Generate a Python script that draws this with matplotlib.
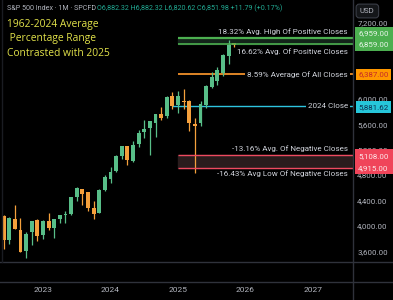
import numpy as np
import matplotlib.pyplot as plt
import matplotlib.transforms as mtransforms
from matplotlib.lines import Line2D
from matplotlib.patches import Rectangle

# data -------------------------------------------------------
months = ['2022-06', '2022-07', '2022-08', '2022-09', '2022-10', '2022-11', '2022-12',
          '2023-01', '2023-02', '2023-03', '2023-04', '2023-05', '2023-06',
          '2023-07', '2023-08', '2023-09', '2023-10', '2023-11', '2023-12',
          '2024-01', '2024-02', '2024-03', '2024-04', '2024-05', '2024-06',
          '2024-07', '2024-08', '2024-09', '2024-10', '2024-11', '2024-12',
          '2025-01', '2025-02', '2025-03', '2025-04', '2025-05', '2025-06',
          '2025-07', '2025-08', '2025-09', '2025-10', '2025-11']
opens = [4149.8, 3781.0, 4112.4, 3936.7, 3609.8, 3901.8, 4087.1,
         3853.3, 4070.1, 3963.3, 4102.2, 4166.8, 4181.2,
         4450.5, 4578.8, 4530.6, 4284.5, 4201.3, 4559.4,
         4745.2, 4861.1, 5098.5, 5258.0, 5029.0, 5283.4,
         5471.1, 5537.8, 5623.9, 5757.7, 5723.2, 6040.1,
         5903.3, 5969.7, 5968.3, 5597.5, 5625.1, 5896.7,
         6187.0, 6287.3, 6401.5, 6680.0, 6882.32]
highs = [4177.5, 4140.2, 4325.3, 4119.3, 3905.4, 4080.1, 4101.0,
         4094.2, 4195.4, 4110.8, 4170.1, 4231.1, 4458.5,
         4607.1, 4584.6, 4541.3, 4393.6, 4587.6, 4793.3,
         4931.1, 5111.1, 5264.9, 5264.0, 5341.9, 5505.5,
         5669.7, 5651.6, 5767.4, 5878.5, 6044.2, 6100.0,
         6128.2, 6147.4, 5986.1, 5695.3, 5968.6, 6215.1,
         6427.0, 6508.2, 6699.5, 6920.3, 6882.32]
lows = [3636.9, 3721.6, 3954.5, 3584.1, 3491.6, 3698.2, 3764.5,
        3794.3, 3943.1, 3808.9, 4048.3, 4048.3, 4166.2,
        4385.1, 4335.3, 4238.6, 4103.8, 4197.7, 4546.5,
        4682.1, 4853.5, 5056.8, 4953.6, 5011.1, 5234.3,
        5391.0, 5119.3, 5402.6, 5674.0, 5696.5, 5832.3,
        5773.3, 5837.7, 5488.7, 4835.0, 5578.6, 5861.4,
        6178.0, 6212.7, 6360.6, 6550.2, 6820.62]
closes = [3785.4, 4130.3, 3955.0, 3585.6, 3872.0, 4080.1, 3839.5,
          4076.6, 3970.2, 4109.3, 4169.5, 4179.8, 4450.4,
          4589.0, 4507.7, 4288.1, 4193.8, 4567.8, 4769.8,
          4845.7, 5096.3, 5254.4, 5035.7, 5277.5, 5460.5,
          5522.3, 5648.4, 5762.5, 5705.5, 6032.4, 5881.62,
          6040.5, 5954.5, 5611.9, 5569.1, 5911.7, 6205.0,
          6339.4, 6460.3, 6688.5, 6840.19, 6851.98]

years = [2023, 2024, 2025, 2026, 2027]
price_ticks = [3600, 4000, 4400, 4800, 5200, 5600, 6000, 6400, 6800, 7200]
hidden_ticks = [6400, 6800]  # covered by the price badges

level_vals = [6959, 6859, 6387, 5881.62, 5108, 4915]
level_text = ['18.32% Avg. High Of Positive Closes', '16.62% Avg. Of Positive Closes',
              '8.59% Average Of All Closes', '2024 Close',
              '-13.16% Avg. Of Negative Closes', '-16.43% Avg Low Of Negative Closes']
level_start = ['2025-01', '2025-01', '2025-01', '2024-12', '2025-01', '2025-01']

GREEN = '#58be88'
ORANGE = '#f5a03c'
GRID = '#2f323b'
TXT = '#b2b5be'


def month_idx(m):
    y, mo = m.split('-')
    return (int(y) - 2023) * 12 + int(mo) - 1


x = np.array([month_idx(m) for m in months])
o = np.array(opens); h = np.array(highs); l = np.array(lows); c = np.array(closes)
cols = np.where(c >= o, GREEN, ORANGE)

W, H = 393, 300
fig = plt.figure(figsize=(W / 100, H / 100), dpi=100, facecolor='black')
ax = fig.add_axes([0, 38 / H, 353 / W, 262 / H], facecolor='black')
XL = (-7.64, 55.1)
ax.set_xlim(*XL)
ax.set_ylim(3432, 7555)
for s in ax.spines.values():
    s.set_visible(False)

# candles
ax.vlines(x, l, h, colors=cols, linewidth=0.9, zorder=2)
ax.bar(x, np.maximum(np.abs(c - o), 4), bottom=np.minimum(o, c), width=0.7,
       color=cols, linewidth=0, zorder=2)

# level lines
st = [month_idx(m) for m in level_start]
ax.fill_between([st[0], XL[1]], level_vals[1], level_vals[0], color='#13241a', zorder=1)
ax.fill_between([st[4], XL[1]], level_vals[5], level_vals[4], color='#2a1c1d', zorder=1)
ax.hlines(level_vals[0], st[0], XL[1], color='#4caf50', lw=1.6, zorder=3)
ax.hlines(level_vals[1], st[1], XL[1], color='#4caf50', lw=1.2, zorder=3)
ax.hlines(level_vals[2], st[2], XL[1], color='#f0902a', lw=1.3, zorder=1.5)
ax.hlines(level_vals[3], st[3], XL[1], color='#2ec4df', lw=1.0, zorder=1.5)
ax.hlines(level_vals[4], st[4], XL[1], color='#ee4a60', lw=1.0, zorder=3)
ax.hlines(level_vals[5], st[5], XL[1], color='#ee4a60', lw=1.0, zorder=3)

# level labels
tr = mtransforms.blended_transform_factory(ax.transAxes, ax.transData)
lab_dy = [4.4, -5.4, 0, 0, 4.6, -4.5]
for v, t, dy in zip(level_vals, level_text, lab_dy):
    bb = dict(boxstyle='square,pad=0.25', fc='black', ec='none') if dy == 0 else None
    ax.annotate(t, xy=(1, v), xycoords=tr, xytext=(-3.6, dy), textcoords='offset points',
                ha='right', va='center', fontsize=5.75, family='Roboto', color='#d1d4dc',
                bbox=bb, zorder=4)

# price badges: paired ones share one block
badge_fc = ['#4caf50', '#4caf50', '#ff9800', '#26c6da', '#f0455a', '#f0455a']
badge_tc = ['#e8f5e9', '#e8f5e9', '#c62828', '#0d3050', '#fde8ea', '#fde8ea']
badge_dy = [3.3, 0, -0.3, -0.5, -0.3, -0.3]
paired = [True, True, False, False, True, True]
px = 1 / 0.06354  # price units per pixel
for top, bot, fc in [(level_vals[0], level_vals[1], badge_fc[0]),
                     (level_vals[4], level_vals[5], badge_fc[4])]:
    y0 = bot - 6.5 * px
    y1 = top + (10.5 if fc == badge_fc[0] else 6.5) * px
    ax.add_patch(Rectangle((355 / 353, y0), 40 / 353, y1 - y0, transform=tr,
                           fc=fc, ec='none', clip_on=False, zorder=5))
for v, fc, tc, dy, pr in zip(level_vals, badge_fc, badge_tc, badge_dy, paired):
    bb = None if pr else dict(boxstyle='square,pad=0.35', fc=fc, ec='none')
    ax.annotate(f'{v:,.2f}', xy=(1, v), xycoords=tr, xytext=(3.8, dy), textcoords='offset points',
                ha='left', va='center', fontsize=5.7, family='Roboto', color=tc,
                bbox=bb, annotation_clip=False, zorder=6)

# axes ticks
ax.yaxis.tick_right()
ax.set_yticks(price_ticks)
ax.set_yticklabels(['' if p in hidden_ticks else f'{p:,.2f}' for p in price_ticks])
ax.tick_params(axis='y', length=0, pad=3, labelsize=5.7, labelcolor=TXT)
ax.set_xticks([(yv - 2023) * 12 for yv in years])
ax.set_xticklabels([str(yv) for yv in years])
ax.tick_params(axis='x', length=0, pad=18, labelsize=6, labelcolor=TXT)
for lab in ax.get_xticklabels() + ax.get_yticklabels():
    lab.set_family('Roboto')

# frame lines
fig.add_artist(Line2D([0, 1], [1 - 262 / H] * 2, color=GRID, lw=1))
fig.add_artist(Line2D([0, 1], [1 - 282 / H] * 2, color=GRID, lw=1))
fig.add_artist(Line2D([353 / W] * 2, [0, 1], color=GRID, lw=1))
fig.add_artist(Line2D([2 / W] * 2, [1 - 262 / H, 1], color='#1a1c22', lw=1))

# header
fig.text(7 / W, 1 - 8 / H, 'S&P 500 Index · 1M · SPCFD', fontsize=5.1, family='Roboto',
         color=TXT, va='center', ha='left')
chg = closes[-1] - closes[-2]
hdr = (f'O{opens[-1]:,.2f} H{highs[-1]:,.2f} L{lows[-1]:,.2f} C{closes[-1]:,.2f} '
       f'{chg:+.2f} ({chg / closes[-2] * 100:+.2f}%)')
fig.text(97 / W, 1 - 8 / H, hdr, fontsize=5.1, family='Roboto', color='#22ab94',
         va='center', ha='left')
fig.text(360 / W, 1 - 11 / H, 'USD', fontsize=5.6, family='Roboto', color=TXT,
         va='center', ha='left',
         bbox=dict(boxstyle='round,pad=0.5,rounding_size=0.4', fc='#141619', ec='#3a3d46', lw=0.8))

# title
title = ['1962-2024 Average', ' Percentage Range', 'Contrasted with 2025']
for i, t in enumerate(title):
    fig.text(7 / W, 1 - (24.5 + 14.4 * i) / H, t, fontsize=7.4, family='Open Sans',
             color='#e2e24a', va='center', ha='left')

fig.savefig('out.png', dpi=100, facecolor='black')
